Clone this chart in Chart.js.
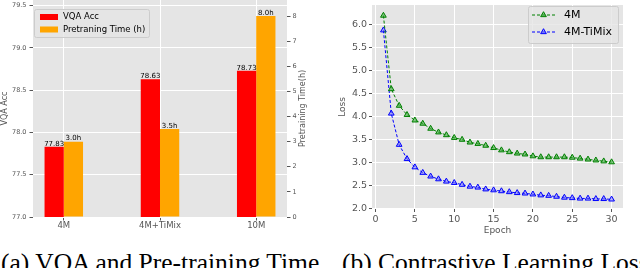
<!DOCTYPE html>
<html>
<head>
<meta charset="utf-8">
<script src="https://cdn.jsdelivr.net/npm/chart.js@4"></script>
<style>
body { margin: 0; background: #fff; width: 640px; height: 268px; overflow: hidden; position: relative; }
canvas { position: absolute; top: 0; }
#left { left: 0; }
#right { left: 320px; }
.cap { position: absolute; top: 249.6px; font-family: 'Liberation Serif', serif; font-size: 25.5px; line-height: 25.5px; white-space: nowrap; color: #000; }
</style>
</head>
<body>
<canvas id="left" width="320" height="240"></canvas>
<canvas id="right" width="320" height="240"></canvas>
<div class="cap" style="left:1px">(a) VQA and Pre-training Time</div>
<div class="cap" style="left:342px">(b) Contrastive Learning Loss</div>
<script>
// left chart
const models = ['4M', '4M+TiMix', '10M'];
const vqaAcc = [77.83, 78.63, 78.73];
const pretrainHours = [3.0, 3.5, 8.0];

// right chart
const epochs = [1, 2, 3, 4, 5, 6, 7, 8, 9, 10, 11, 12, 13, 14, 15, 16, 17, 18, 19, 20, 21, 22, 23, 24, 25, 26, 27, 28, 29, 30];
const loss4M = [6.19, 4.59, 4.23, 4.03, 3.91, 3.84, 3.73, 3.65, 3.59, 3.53, 3.49, 3.43, 3.40, 3.36, 3.31, 3.26, 3.22, 3.19, 3.17, 3.13, 3.11, 3.11, 3.11, 3.11, 3.10, 3.08, 3.06, 3.04, 3.02, 3.00];
const lossTiMix = [5.87, 4.06, 3.38, 3.07, 2.89, 2.77, 2.69, 2.63, 2.58, 2.55, 2.51, 2.47, 2.45, 2.41, 2.39, 2.37, 2.35, 2.33, 2.32, 2.30, 2.28, 2.27, 2.25, 2.23, 2.22, 2.21, 2.21, 2.20, 2.20, 2.19];

const FONT = 'DejaVu Sans';
const gray = '#555555';
const panel = '#e5e5e5';

// fixed box sizes, no extra padding for edge labels
const fixWidth = w => s => { s.width = w; s.paddingTop = 0; s.paddingBottom = 0; };
const fixHeight = h => s => { s.height = h; s.paddingLeft = 0; s.paddingRight = 0; };

const plotBg = {
  id: 'plotBg',
  beforeDraw(chart) {
    const { ctx, chartArea: a } = chart;
    ctx.save();
    ctx.fillStyle = panel;
    ctx.fillRect(a.left, a.top, a.right - a.left, a.bottom - a.top);
    ctx.restore();
  }
};

const barLabels = {
  id: 'barLabels',
  afterDatasetsDraw(chart, args, opts) {
    const ctx = chart.ctx;
    ctx.save();
    ctx.font = '7px ' + FONT;
    ctx.fillStyle = '#000';
    ctx.textAlign = 'center';
    ctx.textBaseline = 'bottom';
    chart.data.datasets.forEach((ds, di) => {
      chart.getDatasetMeta(di).data.forEach((bar, i) => {
        ctx.fillText(opts.format[di](ds.data[i].y), bar.x, bar.y + 0.5);
      });
    });
    ctx.restore();
  }
};

const sideTitle = {
  id: 'sideTitle',
  afterDraw(chart, args, opts) {
    const { ctx, chartArea: a } = chart;
    ctx.save();
    ctx.translate(opts.x, (a.top + a.bottom) / 2);
    ctx.rotate(-Math.PI / 2);
    ctx.font = opts.size + 'px ' + FONT;
    ctx.fillStyle = gray;
    ctx.textAlign = 'center';
    ctx.textBaseline = 'middle';
    ctx.fillText(opts.text, 0, 0);
    ctx.restore();
  }
};

function roundRect(ctx, x, y, w, h, r) {
  ctx.beginPath();
  ctx.moveTo(x + r, y);
  ctx.arcTo(x + w, y, x + w, y + h, r);
  ctx.arcTo(x + w, y + h, x, y + h, r);
  ctx.arcTo(x, y + h, x, y, r);
  ctx.arcTo(x, y, x + w, y, r);
  ctx.closePath();
}

const insideLegend = {
  id: 'insideLegend',
  afterDraw(chart, args, o) {
    const ctx = chart.ctx;
    ctx.save();
    roundRect(ctx, o.x + 0.5, o.y + 0.5, o.w, o.h, 2);
    ctx.fillStyle = 'rgba(229,229,229,0.8)';
    ctx.fill();
    ctx.strokeStyle = '#cccccc';
    ctx.lineWidth = 1;
    ctx.stroke();
    ctx.font = o.size + 'px ' + FONT;
    ctx.textBaseline = 'middle';
    chart.data.datasets.forEach((ds, i) => {
      const cy = o.rowY[i];
      if (o.kind === 'bar') {
        ctx.fillStyle = ds.backgroundColor;
        ctx.fillRect(o.sx, cy - 3, o.sw, 6);
      } else {
        ctx.strokeStyle = ds.borderColor;
        ctx.lineWidth = 1;
        ctx.setLineDash([3, 2]);
        ctx.beginPath();
        ctx.moveTo(o.sx, cy);
        ctx.lineTo(o.sx + o.sw, cy);
        ctx.stroke();
        ctx.setLineDash([]);
        const mx = o.sx + o.sw / 2, r = 3.3;
        ctx.beginPath();
        ctx.moveTo(mx, cy - r);
        ctx.lineTo(mx + r * 0.866, cy + r / 2);
        ctx.lineTo(mx - r * 0.866, cy + r / 2);
        ctx.closePath();
        ctx.fillStyle = ds.pointBackgroundColor;
        ctx.fill();
        ctx.stroke();
      }
      ctx.fillStyle = '#000';
      ctx.fillText(ds.label, o.tx, cy);
    });
    ctx.restore();
  }
};

const leftChart = new Chart(document.getElementById('left'), {
  type: 'bar',
  data: {
    datasets: [
      {
        label: 'VQA Acc',
        data: vqaAcc.map((v, i) => ({ x: i, y: v })),
        backgroundColor: '#ff0000',
        yAxisID: 'y',
        categoryPercentage: 0.4,
        barPercentage: 1
      },
      {
        label: 'Pretraning Time (h)',
        data: pretrainHours.map((v, i) => ({ x: i, y: v })),
        backgroundColor: '#ffa500',
        yAxisID: 'y1',
        categoryPercentage: 0.4,
        barPercentage: 1
      }
    ]
  },
  options: {
    responsive: false,
    animation: false,
    layout: { padding: 0 },
    plugins: {
      legend: { display: false },
      tooltip: { enabled: false },
      barLabels: { format: [v => v.toFixed(2), v => v.toFixed(1) + 'h'] },
      sideTitle: { x: 303, text: 'Pretraining Time(h)', size: 8 },
      insideLegend: { kind: 'bar', x: 34, y: 9, w: 115, h: 28, rowY: [17, 29.5], sx: 40, sw: 18, tx: 63, size: 8.5 }
    },
    scales: {
      x: {
        type: 'linear',
        min: -0.32,
        max: 2.32,
        offset: false,
        ticks: {
          stepSize: 1,
          includeBounds: false,
          autoSkip: false,
          maxRotation: 0,
          callback: v => models[v],
          color: gray,
          font: { family: FONT, size: 8.5 },
          padding: 0.5
        },
        grid: { color: '#ffffff', tickColor: gray, tickLength: 3.5, offset: false },
        border: { display: false },
        afterFit: fixHeight(23)
      },
      y: {
        position: 'left',
        min: 77,
        max: 79.567,
        ticks: {
          stepSize: 0.5,
          includeBounds: false,
          callback: v => v.toFixed(1),
          color: gray,
          font: { family: FONT, size: 6.5 },
          padding: 3
        },
        grid: { color: '#ffffff', tickColor: gray, tickLength: 3.5 },
        border: { display: false },
        title: { display: true, text: 'VQA Acc', color: gray, font: { family: FONT, size: 8 }, padding: 0 },
        afterFit: fixWidth(33)
      },
      y1: {
        position: 'right',
        min: 0,
        max: 8.64,
        ticks: {
          stepSize: 1,
          includeBounds: false,
          color: gray,
          font: { family: FONT, size: 6.5 },
          padding: 2
        },
        grid: { drawOnChartArea: false, tickColor: gray, tickLength: 3.5 },
        border: { display: false },
        afterFit: fixWidth(33)
      }
    }
  },
  plugins: [plotBg, barLabels, sideTitle, insideLegend]
});

const rightChart = new Chart(document.getElementById('right'), {
  type: 'line',
  data: {
    datasets: [
      {
        label: '4M',
        data: epochs.map((e, i) => ({ x: e, y: loss4M[i] })),
        borderColor: '#008000',
        borderWidth: 1,
        borderDash: [3, 2],
        pointStyle: 'triangle',
        pointRadius: 3.3,
        pointBorderWidth: 1,
        pointBorderColor: '#008000',
        pointBackgroundColor: 'rgba(60,170,60,0.6)',
        tension: 0
      },
      {
        label: '4M-TiMix',
        data: epochs.map((e, i) => ({ x: e, y: lossTiMix[i] })),
        borderColor: '#0000ff',
        borderWidth: 1,
        borderDash: [3, 2],
        pointStyle: 'triangle',
        pointRadius: 3.3,
        pointBorderWidth: 1,
        pointBorderColor: '#0000ff',
        pointBackgroundColor: 'rgba(110,110,255,0.5)',
        tension: 0
      }
    ]
  },
  options: {
    responsive: false,
    animation: false,
    layout: { padding: { right: 17, top: 0, left: 0, bottom: 0 } },
    plugins: {
      legend: { display: false },
      tooltip: { enabled: false },
      insideLegend: { kind: 'line', x: 208, y: 6, w: 90, h: 37, rowY: [15, 32], sx: 212, sw: 23, tx: 244, size: 11 }
    },
    scales: {
      x: {
        type: 'linear',
        min: -0.45,
        max: 31.45,
        ticks: {
          stepSize: 5,
          includeBounds: false,
          color: gray,
          font: { family: FONT, size: 9.5 },
          padding: 2
        },
        grid: { color: '#ffffff', tickColor: gray, tickLength: 3 },
        border: { display: false },
        title: { display: true, text: 'Epoch', color: gray, font: { family: FONT, size: 9 }, padding: { top: 0, bottom: 4 } },
        afterFit: fixHeight(31)
      },
      y: {
        min: 1.98,
        max: 6.42,
        ticks: {
          stepSize: 0.5,
          includeBounds: false,
          callback: v => v.toFixed(1),
          color: gray,
          font: { family: FONT, size: 9.5 },
          padding: 2
        },
        grid: { color: '#ffffff', tickColor: gray, tickLength: 3 },
        border: { display: false },
        title: { display: true, text: 'Loss', color: gray, font: { family: FONT, size: 9 }, padding: { top: 17, bottom: 0 } },
        afterFit: fixWidth(52)
      }
    }
  },
  plugins: [plotBg, insideLegend]
});
</script>
</body>
</html>
